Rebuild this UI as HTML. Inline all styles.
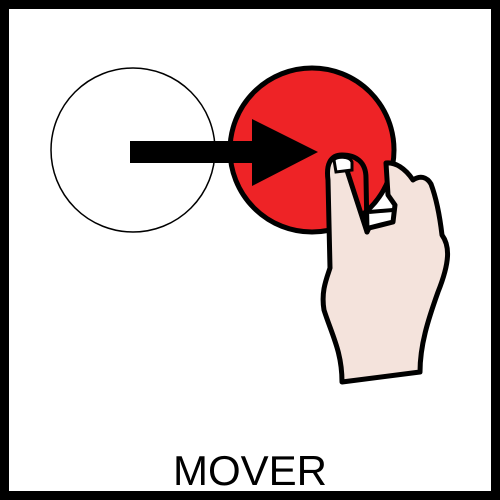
<!DOCTYPE html>
<html><head><meta charset="utf-8"><style>
html,body{margin:0;padding:0;background:#fff}
#wrap{position:relative;width:500px;height:500px;overflow:hidden}
</style></head><body>
<div id="wrap">
<svg width="500" height="500" viewBox="0 0 500 500">
<rect x="4.5" y="4.5" width="491" height="491" fill="#fff" stroke="#000" stroke-width="9"/>
<circle cx="133" cy="150" r="82" fill="#fff" stroke="#000" stroke-width="1.5"/>
<circle cx="312" cy="150" r="82" fill="#ee2326" stroke="#000" stroke-width="5"/>
<g>
<rect x="130" y="141" width="125" height="22" fill="#000"/>
<polygon points="252,119 318,152 252,186" fill="#000"/>
</g>
<g>
<path d="M342,155 C330,155 326,165 328,180 L330,268 C326,280 321,292 324,310 C332,335 342,352 342,382 L420,372 C420,345 428,320 438,292 C450,262 450,246 442,235 C440,218 437,200 431,184 C427,177 420,175 413,180 C405,168 395,162 386,163 L388,195 L395,205 L393,222 L369,228 L367,232 Z" fill="#f4e3dc" stroke="#000" stroke-width="5" stroke-linejoin="round"/>
<path d="M367,232 L366,178 C366,162 356,155 342,155" fill="none" stroke="#000" stroke-width="5" stroke-linecap="round"/>
<path d="M369,212 L393,210" fill="none" stroke="#000" stroke-width="4"/>
<path d="M334,160 C336,156 350,156 352,162 L352,170 L336,172 Z" fill="#fff" stroke="#000" stroke-width="3"/>
</g>
<text x="250" y="485" text-anchor="middle" font-family="Liberation Sans, sans-serif" font-size="42" fill="#000">MOVER</text>
</svg>
</div>
</body></html>
